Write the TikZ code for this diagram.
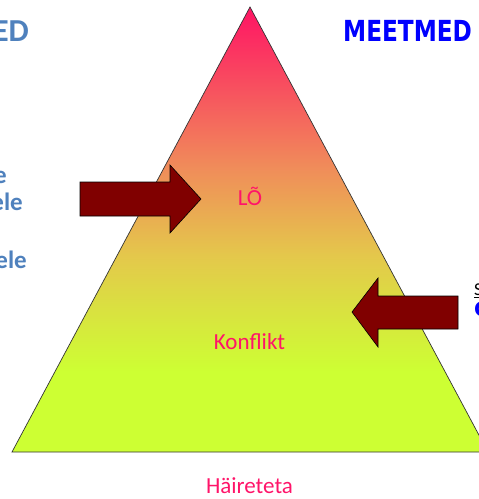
\documentclass[tikz,border=0pt]{standalone}
\usepackage{fontspec}
\setmainfont{Carlito}
\newfontfamily\dvb{DejaVu Sans}[FontFace={b}{n}{DejaVu Sans Bold}]
\definecolor{pinktxt}{RGB}{255,20,105}
\definecolor{steel}{RGB}{79,129,189}
\definecolor{arrowred}{RGB}{128,0,0}
\definecolor{gtop}{RGB}{255,20,100}
\definecolor{gmid}{RGB}{240,140,90}
\definecolor{gmid2}{RGB}{228,200,75}
\definecolor{gbot}{RGB}{205,255,51}
\pgfdeclareverticalshading{trishade}{100bp}{color(0bp)=(gbot); color(25bp)=(gbot); color(34bp)=(gbot); color(47bp)=(gmid2); color(57bp)=(gmid); color(75bp)=(gtop); color(100bp)=(gtop)}
\tikzset{
  lbl/.style={text=pinktxt, font=\fontsize{23}{23}\selectfont, inner sep=0pt},
  side/.style={text=steel, font=\bfseries\fontsize{25}{25}\selectfont, inner sep=0pt, anchor=base east},
  bigarrow/.style={fill=arrowred, draw=black, line width=0.6pt, line join=miter}
}
\begin{document}
\begin{tikzpicture}[x=1pt,y=-1pt]
\useasboundingbox (0,0) rectangle (479,499);
\clip (0,0) rectangle (479,499);
% triangle
\coordinate (apex) at (250,7);
\coordinate (bl) at (12,452);
\coordinate (br) at (488,452);
\shade[shading=trishade, draw=black!80, line width=0.7pt] (apex) -- (bl) -- (br) -- cycle;
% arrows
\draw[bigarrow] (80,182) -- (170,182) -- (170,165) -- (201,199) -- (170,233) -- (170,216) -- (80,216) -- cycle;
\draw[bigarrow] (458,296) -- (378,296) -- (378,278) -- (352,312) -- (378,347) -- (378,329) -- (458,329) -- cycle;
% labels
\node[lbl, anchor=base] (lo) at (250,205) {LÕ};
\node[lbl, anchor=base] (konf) at (249.5,349) {Konflikt};
\node[lbl, anchor=base] (hair) at (249.5,493) {Häireteta};
% titles
\node[text=blue, font=\dvb\bfseries\fontsize{29}{29}\selectfont, inner sep=0pt, anchor=base west] (meet) at (343,41) {\scalebox{0.8}[1]{MEETMED}};
\node[text=steel, font=\bfseries\fontsize{32}{32}\selectfont, inner sep=0pt, anchor=base east] (ed) at (29,41) {ED};
% left fragments
\node[side] (l1) at (7,183) {e};
\node[side] (l2) at (23,210) {ele};
\node[side] (l3) at (27,268) {ele};
% right fragments
\node[text=black, font=\fontsize{18}{18}\selectfont, inner sep=0pt, anchor=base west] (r1) at (474,295) {S};
\draw[black, line width=0.8pt] (474,297.5) -- (479,297.5);
\node[text=blue, font=\dvb\bfseries\fontsize{20}{20}\selectfont, inner sep=0pt, anchor=base west] (r2) at (474,316) {C};
\end{tikzpicture}
\end{document}
